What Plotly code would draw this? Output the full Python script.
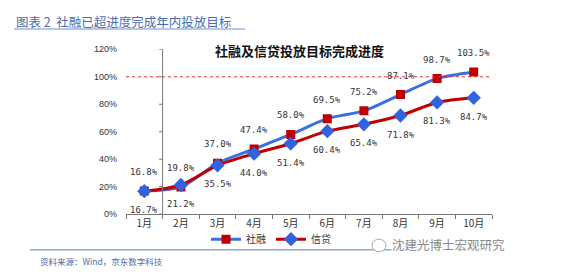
import plotly.graph_objects as go

months = ["1月", "2月", "3月", "4月", "5月", "6月", "7月", "8月", "9月", "10月"]
shrong = [16.8, 19.8, 37.0, 47.4, 58.0, 69.5, 75.2, 87.1, 98.7, 103.5]   # 社融
xindai = [16.7, 21.2, 35.5, 44.0, 51.4, 60.4, 65.4, 71.8, 81.3, 84.7]    # 信贷
y_ticks = [0, 20, 40, 60, 80, 100, 120]
y_labels = [f"{v}%" for v in y_ticks]
target = 100

W, H = 580, 275
BLUE = "#3a6fe2"
RED = "#c00000"
CJK = "Noto Sans CJK SC"

def fx(px):
    return px / W

def fy(py):
    return (H - py) / H

fig = go.Figure()
fig.add_trace(go.Scatter(
    x=months, y=shrong, name="社融", mode="lines+markers",
    line=dict(color=BLUE, width=3, shape="spline", smoothing=0.8),
    marker=dict(symbol="square", size=9, color=RED),
))
fig.add_trace(go.Scatter(
    x=months, y=xindai, name="信贷", mode="lines+markers",
    line=dict(color=RED, width=3, shape="spline", smoothing=0.8),
    marker=dict(symbol="diamond", size=11, color="#2f63e0"),
))

annotations = []
for m, v in zip(months, shrong):
    annotations.append(dict(x=m, y=v, xref="x", yref="y", text=f"{v:.1f}%", showarrow=False,
                            yshift=19, xanchor="center", yanchor="middle",
                            font=dict(family="DejaVu Sans Mono", size=9, color="#333")))
for m, v in zip(months, xindai):
    annotations.append(dict(x=m, y=v, xref="x", yref="y", text=f"{v:.1f}%", showarrow=False,
                            yshift=-19, xanchor="center", yanchor="middle",
                            font=dict(family="DejaVu Sans Mono", size=9, color="#333")))

annotations.append(dict(x=fx(299), y=fy(47), xref="paper", yref="paper", xanchor="center", yanchor="middle",
                        text="<b>社融及信贷投放目标完成进度</b>",
                        showarrow=False, font=dict(family=CJK, size=13, color="#111")))
annotations.append(dict(x=fx(14), y=fy(17), xref="paper", yref="paper", xanchor="left", yanchor="middle",
                        text="图表 2  社融已超进度完成年内投放目标", showarrow=False,
                        font=dict(family=CJK, size=12.5, color="#4a6bb0")))
annotations.append(dict(x=fx(38), y=fy(266), xref="paper", yref="paper", xanchor="left", yanchor="middle",
                        text="资料来源：Wind，京东数字科技", showarrow=False,
                        font=dict(family=CJK, size=8.5, color="#4a6bb0")))
annotations.append(dict(x=fx(506), y=fy(249), xref="paper", yref="paper", xanchor="right", yanchor="middle",
                        text="沈建光博士宏观研究", showarrow=False, bgcolor="white", borderpad=0,
                        font=dict(family=CJK, size=12.5, color="#888")))

shapes = [
    dict(type="line", xref="x", yref="y", x0=-0.5, x1=9.5, y0=target, y1=target,
         line=dict(color="#e03030", width=1, dash="dot")),
    dict(type="line", xref="paper", yref="paper", x0=fx(14), x1=fx(245), y0=fy(25), y1=fy(25),
         line=dict(color="#9db4e0", width=1.5)),
    dict(type="line", xref="paper", yref="paper", x0=fx(30), x1=fx(505), y0=fy(254), y1=fy(254),
         line=dict(color="#8fa8dc", width=1.5)),
    dict(type="circle", xref="paper", yref="paper", x0=fx(372), x1=fx(386), y0=fy(256), y1=fy(243),
         fillcolor="white", line=dict(color="#aaa", width=1)),
    # crossing vertical axis between 1月 and 2月
    dict(type="line", xref="x", yref="y", x0=0.5, x1=0.5, y0=y_ticks[0], y1=y_ticks[-1],
         line=dict(color="#777", width=1)),
]
for v in y_ticks:
    shapes.append(dict(type="line", xref="paper", yref="y", x0=fx(159), x1=fx(163), y0=v, y1=v,
                       line=dict(color="#777", width=1)))

fig.update_layout(
    width=W, height=H, margin=dict(l=0, r=0, t=0, b=0),
    plot_bgcolor="white", paper_bgcolor="white",
    font=dict(family=CJK, color="#333"),
    xaxis=dict(domain=[fx(126), fx(492)], type="category", range=[-0.5, 9.5],
               showline=True, linecolor="#777", linewidth=1, ticks="outside", ticklen=4,
               tickcolor="#777", tickson="boundaries", showgrid=False,
               tickfont=dict(family=CJK, size=10, color="#333")),
    yaxis=dict(domain=[fy(217), fy(46)], range=[0, 120], tickvals=y_ticks, ticktext=y_labels,
               showline=False, showgrid=False, zeroline=False, ticks="", ticklabelstandoff=8,
               tickfont=dict(family="Liberation Sans", size=9, color="#333")),
    legend=dict(orientation="h", x=fx(271), xanchor="center", y=fy(243), yanchor="middle",
                font=dict(family=CJK, size=10, color="#333"), bgcolor="rgba(0,0,0,0)",
                itemwidth=30, tracegroupgap=0),
    annotations=annotations, shapes=shapes, showlegend=True,
)

fig.write_html("out.html")
